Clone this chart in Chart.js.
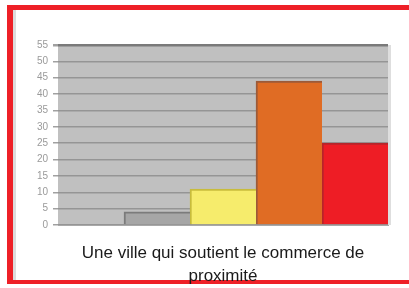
<!DOCTYPE html>
<html>
<head>
<meta charset="utf-8">
<script src="https://cdn.jsdelivr.net/npm/chart.js@4/dist/chart.umd.min.js"></script>
<style>
  html, body { margin: 0; padding: 0; background: #fff; overflow: hidden; }
  #wrap { position: relative; width: 409px; height: 288px; overflow: hidden; }
  #frame {
    position: absolute; left: 7px; top: 5px; width: 410px; height: 279px;
    border-left: 6px solid #ee2027; border-top: 5px solid #ee2027; border-bottom: 4px solid #ee2027;
    border-right: none;
    box-sizing: border-box;
  }
  #frame::before {
    content: ''; position: absolute; left: 0; top: 0; width: 3px; height: 100%; background: #dcdcdc;
  }
  canvas { position: absolute; left: 0; top: 0; }
</style>
</head>
<body>
<div id="wrap">
  <div id="frame"></div>
  <canvas id="chart" width="409" height="288"></canvas>
</div>
<script>
// Single category, one bar per answer
const categories = [['Une ville qui soutient le commerce de', 'proximité']];
const seriesNames = ['Série 1', 'Série 2', 'Série 3', 'Série 4', 'Série 5'];
const seriesValues = [0, 4, 11, 44, 25];
const yTicks = [0, 5, 10, 15, 20, 25, 30, 35, 40, 45, 50, 55];

const fills = ['#8fa8d0', '#a6a6a6', '#f6ec6c', '#e06c24', '#ee1d25'];
const edges = ['#6f86aa', '#7b7b7b', '#c8bc3c', '#9c5a38', '#b8242a'];

// grey plot area behind the bars
const plotBg = {
  id: 'plotBg',
  beforeDraw(chart) {
    const { ctx, chartArea: a } = chart;
    ctx.save();
    ctx.fillStyle = '#c0c0c0';
    ctx.fillRect(a.left, a.top, a.right - a.left, a.bottom - a.top);
    ctx.fillStyle = '#dedede';
    ctx.fillRect(a.right, a.top, 3, a.bottom - a.top);
    ctx.restore();
  },
};

new Chart(document.getElementById('chart'), {
  type: 'bar',
  data: {
    labels: categories,
    datasets: seriesValues.map((v, i) => ({
      label: seriesNames[i],
      data: [v],
      backgroundColor: fills[i],
      borderColor: edges[i],
      borderWidth: { top: 2, left: 2, right: 0, bottom: 0 },
      borderSkipped: false,
      categoryPercentage: 1,
      barPercentage: 1,
    })),
  },
  options: {
    responsive: false,
    animation: false,
    layout: { padding: { left: 0, right: 21, top: 45, bottom: 0 } },
    plugins: { legend: { display: false }, tooltip: { enabled: false } },
    scales: {
      x: {
        grid: { display: false, drawTicks: false },
        border: { display: true, color: '#a8a8a8' },
        ticks: {
          color: '#1a1a1a',
          font: { family: 'Liberation Sans, Arial, sans-serif', size: 17, lineHeight: '23px' },
          padding: 17,
          maxRotation: 0,
        },
        afterFit(scale) { scale.height = 63; },
      },
      y: {
        min: 0,
        max: 55,
        afterBuildTicks(scale) { scale.ticks = yTicks.map((v) => ({ value: v })); },
        border: { display: false },
        grid: {
          color: (c) => (c.tick && c.tick.value === 55 ? '#7a7a7a' : '#959595'),
          lineWidth: (c) => (c.tick && c.tick.value === 55 ? 2.5 : 1.5),
          tickLength: 5,
          tickColor: '#a0a0a0',
        },
        ticks: {
          color: '#9a9a9a',
          font: { family: 'Liberation Sans, Arial, sans-serif', size: 10 },
          padding: 5,
        },
        afterFit(scale) { scale.width = 58; },
      },
    },
  },
  plugins: [plotBg],
});
</script>
</body>
</html>
